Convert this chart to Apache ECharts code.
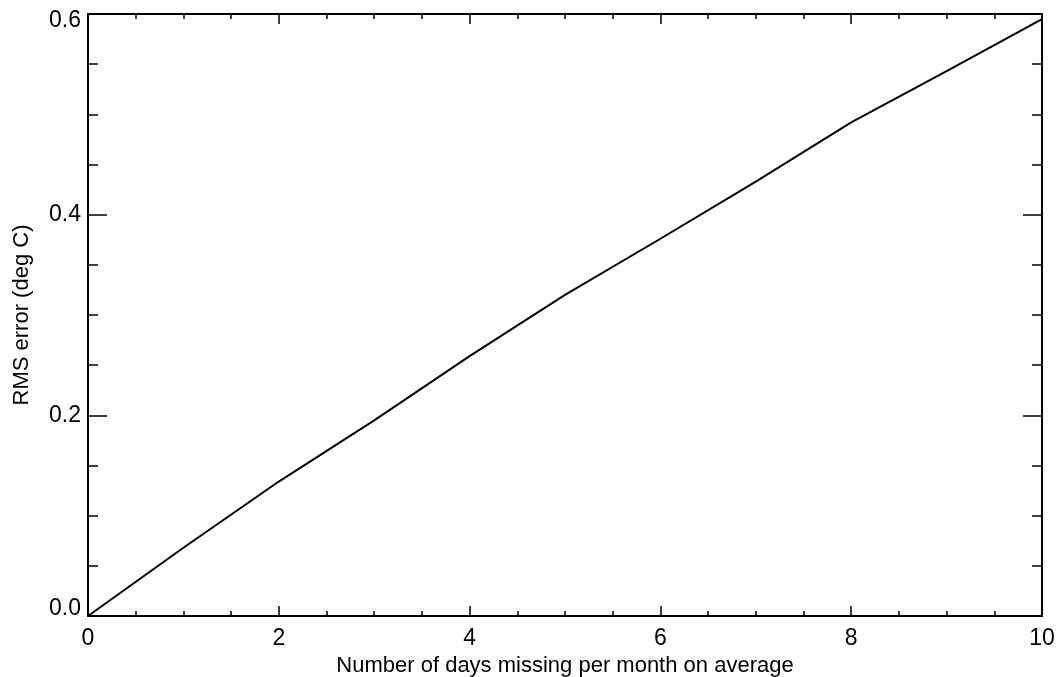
<!DOCTYPE html>
<html>
<head>
<meta charset="utf-8">
<script src="https://cdn.jsdelivr.net/npm/echarts@6/dist/echarts.min.js"></script>
<style>
html,body{margin:0;padding:0;background:#fff;}
#chart{width:1056px;height:677px;}
</style>
</head>
<body>
<div id="chart"></div>
<script>
var daysMissing = [0, 1, 2, 3, 4, 5, 6, 7, 8, 9, 10];
var rmsError = [0.0, 0.068, 0.134, 0.195, 0.259, 0.320, 0.376, 0.433, 0.492, 0.543, 0.595];
var xTitle = 'Number of days missing per month on average';
var yTitle = 'RMS error (deg C)';

var chart = echarts.init(document.getElementById('chart'));
var font = 'Liberation Sans, Arial, Helvetica, sans-serif';
var axisLine = {show: true, onZero: false, lineStyle: {color: '#000', width: 2}};
function xAx(pos, showLabels) {
  return {
    type: 'value', position: pos, min: 0, max: 10, interval: 2,
    axisLine: axisLine,
    axisTick: {show: true, inside: true, length: 10, lineStyle: {color: '#000', width: 1.5}},
    minorTick: {show: true, splitNumber: 4, length: 5, lineStyle: {color: '#000', width: 1.5}},
    splitLine: {show: false},
    axisLabel: {show: showLabels, color: '#000', fontSize: 23, fontFamily: font, margin: 11},
    name: showLabels ? xTitle : '', nameLocation: 'middle', nameGap: 35,
    nameTextStyle: {color: '#000', fontSize: 22, fontFamily: font}
  };
}
function yAx(pos, showLabels) {
  return {
    type: 'value', position: pos, min: 0, max: 0.6, interval: 0.2,
    axisLine: axisLine,
    axisTick: {show: true, inside: true, length: 19, lineStyle: {color: '#000', width: 1.5}},
    minorTick: {show: true, splitNumber: 4, length: 10, lineStyle: {color: '#000', width: 1.5}},
    splitLine: {show: false},
    axisLabel: {show: showLabels, color: '#000', fontSize: 23, fontFamily: font, margin: 7,
      lineHeight: 14,
      verticalAlignMinLabel: 'bottom', verticalAlignMaxLabel: 'top',
      formatter: function (v) { return v.toFixed(1); }},
    name: showLabels ? yTitle : '', nameLocation: 'middle', nameGap: 55, nameRotate: 90,
    nameTextStyle: {color: '#000', fontSize: 22, fontFamily: font}
  };
}
chart.setOption({
  animation: false,
  backgroundColor: '#fff',
  grid: {left: 88, right: 14, top: 14, bottom: 61, containLabel: false, outerBoundsMode: 'none'},
  xAxis: [xAx('bottom', true), xAx('top', false)],
  yAxis: [yAx('left', true), yAx('right', false)],
  series: [{
    type: 'line',
    xAxisIndex: 0, yAxisIndex: 0,
    data: daysMissing.map(function (d, i) { return [d, rmsError[i]]; }),
    showSymbol: false,
    lineStyle: {color: '#000', width: 2},
    clip: false
  }]
});
</script>
</body>
</html>
